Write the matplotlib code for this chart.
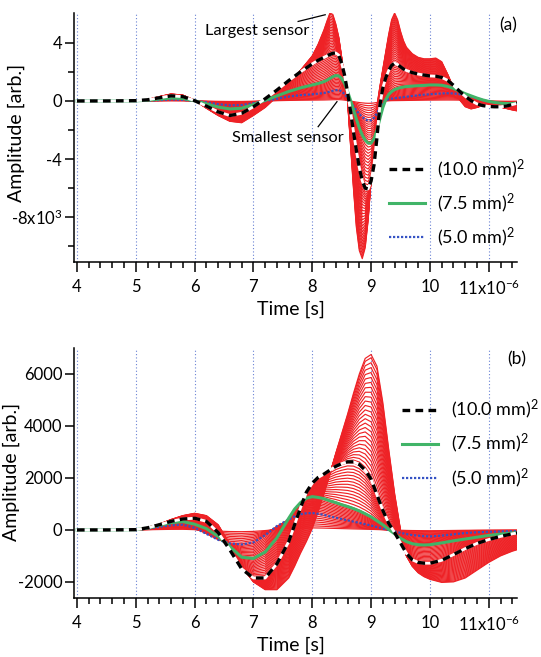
import numpy as np
import matplotlib
matplotlib.use("Agg")
import matplotlib.pyplot as plt

plt.rcParams['font.family'] = ['Lato', 'DejaVu Sans']
plt.rcParams['mathtext.fontset'] = 'custom'
plt.rcParams['mathtext.rm'] = 'Lato'
plt.rcParams['mathtext.it'] = 'Lato:italic'
plt.rcParams['mathtext.bf'] = 'Lato:bold'

# ---- panel (a): time in us, amplitude in units of 1e3 ----
t_a = [4.0, 4.5, 5.0, 5.2, 5.4, 5.6, 5.8, 6.0, 6.2, 6.4, 6.6, 6.8, 7.0, 7.2, 7.4, 7.6, 7.8,
       8.0, 8.1, 8.2, 8.25, 8.3, 8.35, 8.4, 8.45, 8.5, 8.55, 8.6, 8.65, 8.7, 8.75, 8.8, 8.85,
       8.9, 8.95, 9.0, 9.05, 9.1, 9.15, 9.2, 9.25, 9.3, 9.35, 9.4, 9.45, 9.5, 9.55, 9.6,
       9.7, 9.8, 9.9, 10.0, 10.1, 10.2, 10.3, 10.4, 10.5, 10.6, 10.7, 10.8, 10.9, 11.0,
       11.1, 11.2, 11.3, 11.4, 11.5]
largest_a = [0, 0, 0.02, 0.1, 0.3, 0.48, 0.4, 0.05, -0.5, -1.0, -1.4, -1.5, -1.0, -0.45, 0.3, 1.2, 2.1,
             3.1, 3.9, 4.9, 5.5, 6.05, 5.95, 5.3, 4.4, 3.0, 1.4, 0.0, -3.0, -6.0, -8.7, -10.3, -10.85,
             -10.1, -8.2, -5.4, -2.6, -0.3, 1.0, 2.2, 3.4, 4.6, 5.6, 6.05, 5.6, 4.8, 4.15, 3.7,
             3.25, 3.0, 2.9, 2.9, 2.95, 2.7, 1.85, 0.9, 0.1, -0.4, -0.55, -0.45, -0.3, -0.28,
             -0.32, -0.42, -0.52, -0.62, -0.7]
mm10_a = [0, 0, 0.02, 0.08, 0.22, 0.35, 0.3, 0.02, -0.35, -0.75, -1.0, -0.85, -0.4, 0.15, 0.75, 1.4, 2.0,
          2.55, 2.8, 3.0, 3.1, 3.2, 3.28, 3.3, 3.15, 2.6, 1.75, 0.6, -0.7, -2.1, -3.4, -4.6, -5.5,
          -6.0, -6.05, -5.5, -4.4, -2.5, -0.3, 0.9, 1.6, 2.1, 2.45, 2.6, 2.5, 2.35, 2.2, 2.1,
          1.95, 1.85, 1.78, 1.72, 1.7, 1.62, 1.42, 1.08, 0.68, 0.32, 0.02, -0.2, -0.32, -0.38,
          -0.4, -0.4, -0.35, -0.25, -0.15]
mm75_a = [0, 0, 0.01, 0.05, 0.13, 0.2, 0.17, 0.01, -0.2, -0.42, -0.55, -0.5, -0.25, 0.05, 0.35, 0.65, 0.9,
          1.1, 1.2, 1.33, 1.43, 1.55, 1.67, 1.75, 1.72, 1.55, 1.2, 0.65, 0.05, -0.6, -1.25, -1.85, -2.35,
          -2.7, -2.9, -2.9, -2.6, -2.0, -1.2, -0.45, 0.1, 0.45, 0.65, 0.78, 0.86, 0.92, 0.96, 0.99,
          1.02, 1.05, 1.07, 1.1, 1.1, 1.08, 1.0, 0.86, 0.68, 0.5, 0.35, 0.2, 0.07, -0.03,
          -0.1, -0.15, -0.18, -0.18, -0.15]
mm50_a = [0, 0, 0, 0.02, 0.06, 0.1, 0.08, 0, -0.1, -0.22, -0.3, -0.28, -0.15, 0.0, 0.15, 0.3, 0.4,
          0.46, 0.5, 0.55, 0.59, 0.64, 0.7, 0.74, 0.75, 0.66, 0.47, 0.22, -0.05, -0.35, -0.65, -0.9, -1.1,
          -1.27, -1.35, -1.33, -1.15, -0.85, -0.45, -0.12, 0.05, 0.12, 0.16, 0.19, 0.21, 0.24, 0.26, 0.29,
          0.34, 0.39, 0.43, 0.46, 0.49, 0.52, 0.53, 0.52, 0.47, 0.4, 0.3, 0.18, 0.06, -0.04,
          -0.11, -0.15, -0.17, -0.17, -0.15]

# ---- panel (b) ----
t_b = [4.0, 4.5, 5.0, 5.2, 5.4, 5.6, 5.8, 6.0, 6.2, 6.4, 6.6, 6.8, 7.0, 7.2, 7.4,
       7.6, 7.7, 7.8, 7.9, 8.0, 8.1, 8.2, 8.3, 8.4, 8.5, 8.6, 8.7, 8.8, 8.9, 9.0, 9.1, 9.2,
       9.3, 9.4, 9.5, 9.6, 9.7, 9.8, 9.9, 10.0, 10.2, 10.4, 10.6, 10.8, 11.0, 11.2, 11.4, 11.5]
largest_b = [0, 0, 0.02, 0.1, 0.22, 0.4, 0.55, 0.64, 0.55, 0.2, -0.55, -1.4, -2.0, -2.3, -2.3,
             -1.85, -1.4, -0.9, -0.45, 0.05, 0.7, 1.4, 2.15, 2.95, 3.7, 4.45, 5.25, 6.0, 6.6, 6.75, 6.3, 4.9,
             3.1, 1.4, 0.0, -1.0, -1.4, -1.65, -1.8, -1.9, -2.02, -2.0, -1.85, -1.55, -1.25, -1.0, -0.82, -0.75]
mm10_b = [0, 0, 0.01, 0.08, 0.2, 0.33, 0.42, 0.45, 0.33, -0.1, -0.77, -1.5, -1.85, -1.85, -1.3,
          -0.45, 0.2, 0.85, 1.45, 1.8, 2.02, 2.15, 2.3, 2.45, 2.55, 2.62, 2.62, 2.52, 2.3, 1.95, 1.35, 0.75,
          0.25, -0.1, -0.5, -0.9, -1.15, -1.25, -1.28, -1.28, -1.17, -0.95, -0.72, -0.52, -0.37, -0.25, -0.15, -0.11]
mm75_b = [0, 0, 0.01, 0.07, 0.18, 0.28, 0.32, 0.22, 0.05, -0.25, -0.64, -1.05, -1.1, -0.85, -0.3,
          0.45, 0.8, 1.05, 1.22, 1.28, 1.25, 1.2, 1.12, 1.05, 0.97, 0.9, 0.82, 0.73, 0.62, 0.5, 0.35, 0.2,
          0.02, -0.15, -0.32, -0.45, -0.53, -0.57, -0.58, -0.57, -0.5, -0.42, -0.35, -0.28, -0.21, -0.16, -0.12, -0.1]
mm50_b = [0, 0, 0, 0.05, 0.12, 0.18, 0.2, 0.08, -0.15, -0.38, -0.52, -0.56, -0.48, -0.2, 0.15,
          0.4, 0.52, 0.6, 0.64, 0.65, 0.62, 0.58, 0.52, 0.47, 0.42, 0.37, 0.32, 0.27, 0.22, 0.17, 0.11, 0.05,
          0.0, -0.06, -0.11, -0.16, -0.2, -0.22, -0.24, -0.25, -0.22, -0.17, -0.12, -0.09, -0.07, -0.06, -0.05, -0.05]

# sensor areas (mm^2) of the reference curves and of the red family
key_areas = [0.0, 25.0, 56.25, 100.0, 176.0]
red_areas = [3, 6, 9, 12, 15, 18, 21, 24, 27, 30, 33, 36, 39, 42, 45, 48, 51, 54, 57, 60, 63, 66,
             69, 72, 75, 78, 81, 84, 87, 90, 93, 96, 99, 102, 105, 108, 111, 114, 117, 120, 123,
             126, 129, 132, 135, 138, 141, 144, 147, 150, 153, 156, 159, 162, 165, 168, 171, 174, 176]
legend_labels = ['(10.0 mm)$^{2}$', '(7.5 mm)$^{2}$', '(5.0 mm)$^{2}$']

RED = '#ee2226'
GREEN = '#41b468'
BLUE = '#3552c4'
GRID = '#6a82d4'


def family(t, small, mid, big, largest):
    keys = np.array([np.zeros(len(t)), small, mid, big, largest]) * 1000
    return [np.array([np.interp(a, key_areas, keys[:, j]) for j in range(len(t))]) for a in red_areas]


def panel(ax, t, largest, m10, m75, m50, leg_anchor):
    for c in family(t, m50, m75, m10, largest):
        ax.plot(t, c, color=RED, lw=0.85, zorder=2)
    lb, = ax.plot(t, np.array(m50) * 1000, color=BLUE, lw=1.6, ls=(0, (1, 0.8)), zorder=3)
    lg, = ax.plot(t, np.array(m75) * 1000, color=GREEN, lw=2.2, zorder=4)
    ax.plot(t, np.array(m10) * 1000, color='white', lw=2.0, zorder=5)
    lk, = ax.plot(t, np.array(m10) * 1000, color='black', lw=2.4, ls=(0, (2.3, 1.6)), zorder=6)
    for x in range(4, 12):
        ax.axvline(x, color=GRID, lw=0.8, ls=(0, (1, 2)), zorder=1)
    ax.set_xlim(3.95, 11.48)
    ax.set_xticks(range(4, 12))
    ax.set_xticklabels(['4', '5', '6', '7', '8', '9', '10', '11x10$^{-6}$'])
    ax.set_xticks(np.arange(4, 11.5, 0.2), minor=True)
    ax.tick_params(axis='x', which='major', length=7, width=1.1, pad=5, labelsize=12)
    ax.tick_params(axis='x', which='minor', length=4.5, width=1.1)
    ax.tick_params(axis='y', which='major', length=6.5, width=1.1, pad=2, labelsize=12)
    ax.tick_params(axis='y', which='minor', length=4, width=1.1)
    for s in ['top', 'right']:
        ax.spines[s].set_visible(False)
    for s in ['left', 'bottom']:
        ax.spines[s].set_linewidth(1.1)
    ax.set_xlabel('Time [s]', fontsize=14)
    ax.set_ylabel('Amplitude [arb.]', fontsize=14)
    ax.legend([lk, lg, lb], legend_labels, loc='upper left', bbox_to_anchor=leg_anchor,
              frameon=False, fontsize=13, handlelength=2.0, handletextpad=0.7,
              labelspacing=0.6, borderpad=0, borderaxespad=0)


fig = plt.figure(figsize=(5.41, 6.57), dpi=100)
ax_a = fig.add_axes([0.1368, 0.6012, 0.8188, 0.379])
ax_b = fig.add_axes([0.1368, 0.0898, 0.8188, 0.3805])

panel(ax_a, t_a, largest_a, mm10_a, mm75_a, mm50_a, (0.71, 0.42))
ax_a.set_ylim(-11080, 6050)
ax_a.set_yticks([-8000, -4000, 0, 4000])
ax_a.set_yticklabels(['-8x10$^{3}$', '-4', '0', '4'])
ax_a.set_yticks([-10000, -6000, -2000, 2000], minor=True)
ax_a.yaxis.set_label_coords(-0.11, 0.52)
ax_a.xaxis.set_label_coords(0.49, -0.155)
ax_a.text(6.18, 4830, 'Largest sensor', fontsize=11.8, va='center')
ax_a.plot([7.76, 8.22], [5470, 5930], color='black', lw=0.9)
ax_a.text(6.64, -2550, 'Smallest sensor', fontsize=11.8, va='center')
ax_a.plot([8.10, 8.42], [-1770, -50], color='black', lw=0.9)
ax_a.text(11.33, 5200, '(a)', fontsize=12.5, ha='center', va='center')

panel(ax_b, t_b, largest_b, mm10_b, mm75_b, mm50_b, (0.74, 0.80))
ax_b.set_ylim(-2620, 7000)
ax_b.set_yticks([-2000, 0, 2000, 4000, 6000])
ax_b.set_yticklabels(['-2000', '0', '2000', '4000', '6000'])
ax_b.yaxis.set_label_coords(-0.122, 0.504)
ax_b.xaxis.set_label_coords(0.49, -0.155)
ax_b.text(11.48, 6550, '(b)', fontsize=12.5, ha='center', va='center')

fig.savefig('out.png', dpi=100)
